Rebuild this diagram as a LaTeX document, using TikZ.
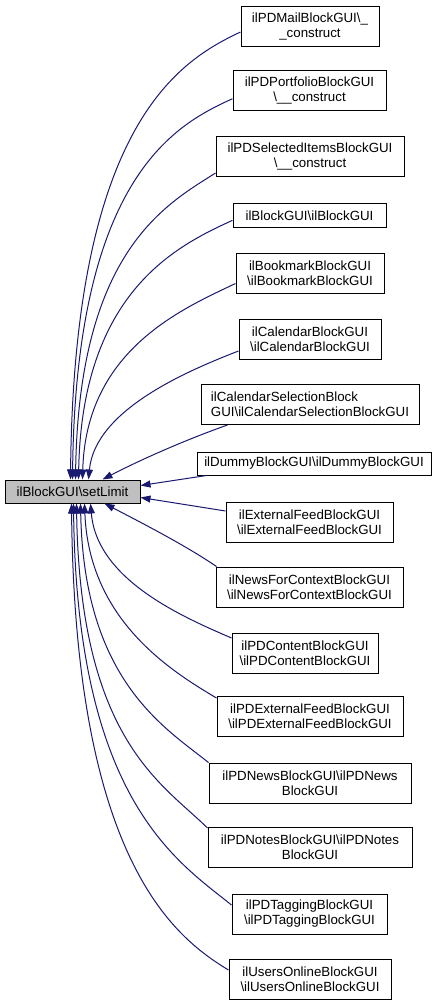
\documentclass[tikz,border=0pt]{standalone}
\usepackage{fontspec}
\setmainfont{Liberation Sans}
\usetikzlibrary{arrows.meta,calc}
\definecolor{edgeblue}{RGB}{25,25,112}
\definecolor{boxgray}{RGB}{191,191,191}
\begin{document}
\begin{tikzpicture}[x=1pt,y=-1pt,
  box/.style={draw=black, line width=1pt, inner sep=0pt, align=center,
    font=\fontsize{13.3}{15}\selectfont, minimum height=40pt},
  mainbox/.style={box, fill=boxgray, minimum height=23pt},
  edge/.style={draw=edgeblue, line width=1pt, -{Triangle[length=10pt,width=7pt]}}]
\useasboundingbox (0,0) rectangle (437,1005);
\node[mainbox, minimum width=135pt] (main) at (72.5,491.5) {ilBlockGUI\textbackslash setLimit};
\node[box, minimum width=138pt] (b1) at (310,26) {ilPDMailBlockGUI\textbackslash\_\\\_construct};
\node[box, minimum width=153pt] (b2) at (309.5,90.7) {ilPDPortfolioBlockGUI\\\textbackslash\_\_construct};
\node[box, minimum width=188pt] (b3) at (310,156) {ilPDSelectedItemsBlockGUI\\\textbackslash\_\_construct};
\node[box, minimum width=153pt, minimum height=24pt] (b4) at (309.5,215.3) {ilBlockGUI\textbackslash ilBlockGUI};
\node[box, minimum width=148pt] (b5) at (310,273.5) {ilBookmarkBlockGUI\\\textbackslash ilBookmarkBlockGUI};
\node[box, minimum width=142pt] (b6) at (310,339) {ilCalendarBlockGUI\\\textbackslash ilCalendarBlockGUI};
\node[box, align=left, minimum width=218pt] (b7) at (310,404.5) {ilCalendarSelectionBlock\\GUI\textbackslash ilCalendarSelectionBlockGUI};
\node[box, minimum width=234pt, minimum height=23pt] (b8) at (314,463.5) {ilDummyBlockGUI\textbackslash ilDummyBlockGUI};
\node[box, minimum width=167pt] (b9) at (309.5,522) {ilExternalFeedBlockGUI\\\textbackslash ilExternalFeedBlockGUI};
\node[box, minimum width=187pt] (b10) at (309.5,587) {ilNewsForContextBlockGUI\\\textbackslash ilNewsForContextBlockGUI};
\node[box, minimum width=146pt] (b11) at (305,653) {ilPDContentBlockGUI\\\textbackslash ilPDContentBlockGUI};
\node[box, minimum width=186pt] (b12) at (310,716.5) {ilPDExternalFeedBlockGUI\\\textbackslash ilPDExternalFeedBlockGUI};
\node[box, minimum width=202pt] (b13) at (310,783) {ilPDNewsBlockGUI\textbackslash ilPDNews\\BlockGUI};
\node[box, minimum width=204pt] (b14) at (310,847.5) {ilPDNotesBlockGUI\textbackslash ilPDNotes\\BlockGUI};
\node[box, minimum width=155pt] (b15) at (309.5,914) {ilPDTaggingBlockGUI\\\textbackslash ilPDTaggingBlockGUI};
\node[box, minimum width=162pt] (b16) at (310,979) {ilUsersOnlineBlockGUI\\\textbackslash ilUsersOnlineBlockGUI};
% upper edges
\draw[edge] ($(b1.west)+(0,6)$) .. controls (181,60) and (74,122) .. ($(main.north west)+(66,0)$);
\draw[edge] ($(b2.west)+(0,8)$) .. controls (177,124) and (76,175) .. ($(main.north west)+(68,0)$);
\draw[edge] ($(b3.west)+(0,17)$) .. controls (167,204) and (79,250) .. ($(main.north west)+(71,0)$);
\draw[edge] ($(b4.west)+(0,5)$) .. controls (179,245) and (82,290) .. ($(main.north west)+(74,0)$);
\draw[edge] ($(b5.west)+(0,10)$) .. controls (182,309) and (86,350) .. ($(main.north west)+(78,0)$);
\draw[edge] ($(b6.west)+(0,12)$) .. controls (187,371) and (95,410) .. ($(main.north west)+(84,0)$);
\draw[edge] ($(b7.south west)+(27,0)$) .. controls (185,440) and (140,460) .. ($(main.north west)+(98,0)$);
\draw[edge] ($(b8.south west)+(10,0)$) -- ($(main.north east)+(0,6)$);
\draw[edge] ($(b9.west)+(0,-11)$) -- ($(main.north east)+(0,18)$);
% lower edges
\draw[edge] ($(b10.north west)+(1,0)$) .. controls (185,545) and (140,522) .. ($(main.south west)+(100,0)$);
\draw[edge] ($(b11.west)+(0,-15)$) .. controls (183,617) and (97,580) .. ($(main.south west)+(86,0)$);
\draw[edge] ($(b12.north west)+(0,2)$) .. controls (171,671) and (89,620) .. ($(main.south west)+(80,0)$);
\draw[edge] (b13.north west) .. controls (164,727) and (84,680) .. ($(main.south west)+(76,0)$);
\draw[edge] ($(b14.north west)+(0,1)$) .. controls (162,783) and (80,740) .. ($(main.south west)+(72,0)$);
\draw[edge] ($(b15.west)+(0,-9)$) .. controls (177,861) and (77,800) .. ($(main.south west)+(69,0)$);
\draw[edge] ($(b16.west)+(0,-9)$) .. controls (174,937) and (75,860) .. ($(main.south west)+(67,0)$);
\end{tikzpicture}
\end{document}
